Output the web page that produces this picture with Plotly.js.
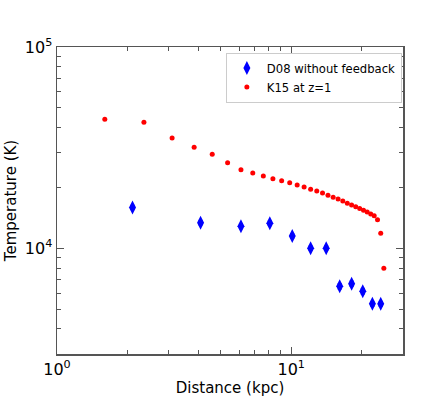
<!DOCTYPE html>
<html>
<head>
<meta charset="utf-8">
<script src="https://cdn.plot.ly/plotly-3.0.1.min.js"></script>
<style>
  html, body { margin: 0; padding: 0; background: #fff; }
  #chart { width: 447px; height: 399px; }
</style>
</head>
<body>
<div id="chart"></div>
<script>
// --- DATA ---
const d08Distance = [2.1, 4.1, 6.1, 8.1, 10.1, 12.1, 14.1, 16.1, 18.1, 20.2, 22.2, 24.1];
const d08Temp = [16000, 13450, 12900, 13350, 11550, 10050, 10050, 6500, 6700, 6150, 5320, 5320];
const d08Err = [400, 350, 350, 350, 300, 250, 250, 200, 200, 200, 150, 150];

const k15Distance = [1.6, 2.35, 3.1, 3.85, 4.6, 5.35, 6.1, 6.85, 7.6, 8.35, 9.1, 9.85,
    10.6, 11.35, 12.1, 12.85, 13.6, 14.35, 15.1, 15.85, 16.6, 17.35, 18.1, 18.85,
    19.6, 20.35, 21.1, 21.85, 22.6, 23.35, 24.1, 24.85];
const k15Temp = [43800, 42300, 35400, 31800, 29400, 26650, 24600, 23700, 22900, 22200, 21700, 21200,
    20650, 20200, 19700, 19300, 18850, 18400, 18000, 17600, 17200, 16800, 16450, 16150,
    15800, 15500, 15200, 14850, 14550, 13900, 11900, 8000];

const xTickVals = [1, 10];
const xTickText = ['10<sup>0</sup>', '10<sup>1</sup>'];
const xMinorVals = [2, 3, 4, 5, 6, 7, 8, 9, 20, 30];
const yTickVals = [1e4, 1e5];
const yTickText = ['10<sup>4</sup>', '10<sup>5</sup>'];
const yMinorVals = [3000, 4000, 5000, 6000, 7000, 8000, 9000, 20000, 30000, 40000, 50000, 60000, 70000, 80000, 90000];

const FONT = 'DejaVu Sans, sans-serif';
const AXIS_COLOR = '#555';

const traces = [
    {
        x: d08Distance, y: d08Temp, name: 'D08 without feedback',
        type: 'scatter', mode: 'markers',
        marker: { symbol: 'diamond-tall', size: 10, color: '#0000ff' },
        error_y: { type: 'data', array: d08Err, color: '#0000ff', thickness: 1, width: 2 }
    },
    {
        x: k15Distance, y: k15Temp, name: 'K15 at z=1',
        type: 'scatter', mode: 'markers',
        marker: { symbol: 'circle', size: 5, color: '#ff0000' }
    }
];

const axisBase = {
    type: 'log',
    showline: true, linecolor: AXIS_COLOR, linewidth: 1.5,
    mirror: 'ticks', ticks: 'inside', ticklen: 7, tickcolor: AXIS_COLOR, tickwidth: 1,
    showgrid: false, zeroline: false,
    tickfont: { family: FONT, size: 16, color: '#000' },
    tickmode: 'array'
};

const layout = {
    width: 447, height: 399,
    margin: { l: 57, r: 44, t: 47, b: 45 },
    paper_bgcolor: '#fff', plot_bgcolor: '#fff',
    font: { family: FONT, color: '#000' },
    showlegend: true,
    legend: {
        x: 0.488, y: 0.982, xanchor: 'left', yanchor: 'top',
        bgcolor: '#fff', bordercolor: '#ccc', borderwidth: 1,
        font: { family: FONT, size: 11.6, color: '#000' },
        itemwidth: 30, tracegroupgap: 0
    },
    xaxis: {
        ...axisBase,
        range: [0, Math.log10(30)],
        tickvals: xTickVals, ticktext: xTickText,
        minor: { tickmode: 'array', tickvals: xMinorVals, ticks: 'inside', ticklen: 4, tickcolor: AXIS_COLOR, showgrid: false },
        title: { text: 'Distance (kpc)', font: { family: FONT, size: 15, color: '#000' }, standoff: 3 }
    },
    yaxis: {
        ...axisBase,
        range: [Math.log10(3000), 5],
        tickvals: yTickVals, ticktext: yTickText,
        minor: { tickmode: 'array', tickvals: yMinorVals, ticks: 'inside', ticklen: 4, tickcolor: AXIS_COLOR, showgrid: false },
        title: { text: 'Temperature (K)', font: { family: FONT, size: 15, color: '#000' }, standoff: 4 }
    }
};

Plotly.newPlot('chart', traces, layout, { displayModeBar: false, staticPlot: true });
</script>
</body>
</html>
